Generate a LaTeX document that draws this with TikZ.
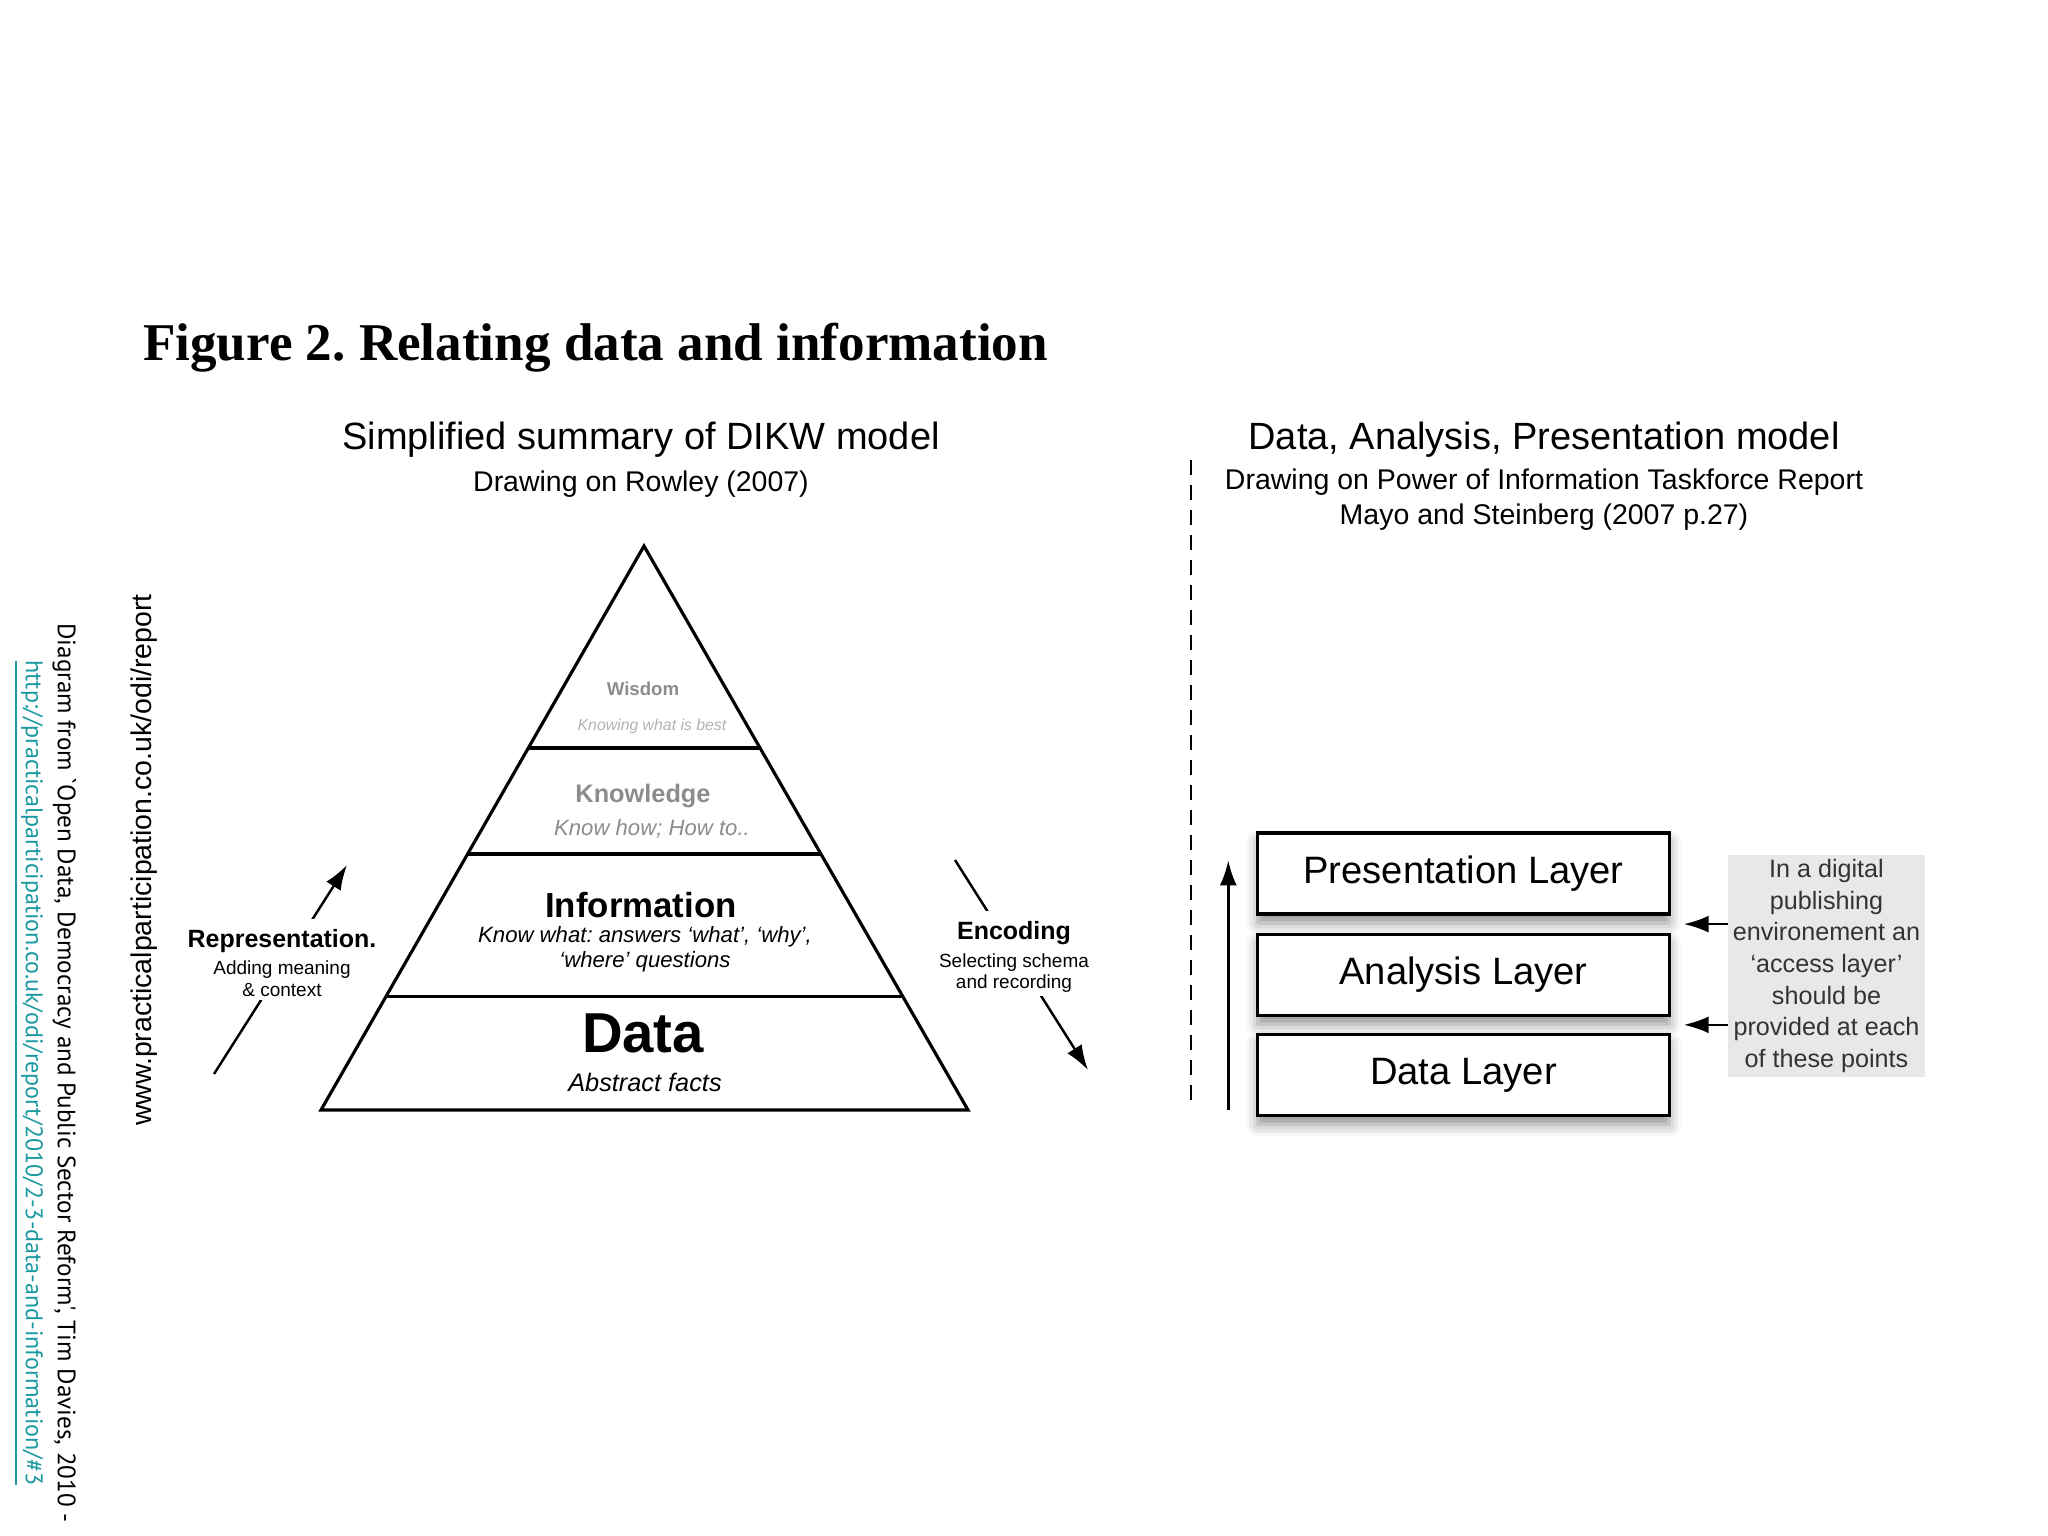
\documentclass[tikz,border=0pt]{standalone}
\usepackage{fontspec}
\setmainfont{Liberation Sans}
\newfontfamily\titlefont{Liberation Serif}
\newfontfamily\creditfont{PT Sans}
\usepackage{xcolor}
\usepackage{tikz}
\usetikzlibrary{arrows.meta, positioning, calc, shadows.blur}
\definecolor{linkteal}{RGB}{26,154,160}
\definecolor{notegray}{RGB}{232,232,232}
\newcommand{\fs}[2]{\fontsize{#1}{#2}\selectfont}

\begin{document}
\frenchspacing
\begin{tikzpicture}[x=0.01cm, y=-0.01cm,
    every node/.style={inner sep=1pt},
    head/.style={font=\fs{10.8}{13}},
    subhead/.style={font=\fs{8.1}{10}, align=center},
    layer/.style={draw, line width=0.9pt, fill=white, minimum width=4.11cm, minimum height=0.81cm,
      font=\fs{10.85}{13},
      blur shadow={shadow xshift=0pt, shadow yshift=-0.09cm, shadow blur radius=0.12cm, shadow opacity=45}},
    flow/.style={line width=0.7pt, -{Latex[length=0.25cm, width=0.17cm]}},
    sidehead/.style={fill=white, inner ysep=3pt, font=\bfseries\fs{7.1}{8}},
    sidetext/.style={fill=white, inner ysep=1pt, align=center, font=\fs{5.4}{6.2}}]
  \useasboundingbox (0,0) rectangle (2048,1536);

  \node[anchor=base west, font=\titlefont\bfseries\fs{15.1}{18}] (title) at (139,360)
    {Figure 2. Relating data and information};

  \node[head] (dikw) at (641,440) {Simplified summary of DIKW model};
  \node[subhead] (dikwsrc) at (641,484) {Drawing on Rowley (2007)};
  \node[head] (dap) at (1544,440) {Data, Analysis, Presentation model};
  \node[subhead] (dapsrc) at (1544,500)
    {Drawing on Power of Information Taskforce Report\\Mayo and Steinberg (2007 p.27)};

  \draw[line width=0.6pt, dash pattern=on 0.15cm off 0.1cm] (1191,460) -- (1191,1110);

  % DIKW pyramid
  \coordinate (apex) at (644,546);
  \coordinate (bl) at (321,1110);
  \coordinate (br) at (968,1110);
  \draw[line width=0.9pt] (apex) -- (bl) -- (br) -- cycle;
  \foreach \f in {0.358,0.546,0.798}
    \draw[line width=0.9pt] ($(apex)!\f!(bl)$) -- ($(apex)!\f!(br)$);

  \node[font=\bfseries\fs{5.3}{6}, text=black!45] (wis) at (643,689) {Wisdom};
  \node[font=\itshape\fs{4.5}{5}, text=black!30] (wisd) at (652,726) {Knowing what is best};
  \node[font=\bfseries\fs{7.2}{8}, text=black!45] (know) at (643,796) {Knowledge};
  \node[font=\itshape\fs{6.3}{7}, text=black!45] (knowd) at (652,829) {Know how; How to..};
  \node[font=\bfseries\fs{9.9}{11}] (info) at (641,905) {Information};
  \node[font=\itshape\fs{6.3}{7.1}, align=center] (infod) at (645,949)
    {Know what: answers `what', `why',\\`where' questions};
  \node[font=\bfseries\fs{16}{18}] (data) at (643,1033) {Data};
  \node[font=\itshape\fs{7.2}{8}] (datad) at (645,1082) {Abstract facts};

  \coordinate (repfrom) at (214,1074);
  \coordinate (repto) at (347,865);
  \draw[flow] (repfrom) -- (repto);
  \node[sidehead] (rep) at (282,941) {Representation.};
  \node[sidetext] (repd) at (282,979) {Adding meaning\\\& context};

  \coordinate (encfrom) at (955,860);
  \coordinate (encto) at (1088,1070);
  \draw[flow] (encfrom) -- (encto);
  \node[sidehead] (enc) at (1014,933) {Encoding};
  \node[sidetext] (encd) at (1014,973) {Selecting schema\\and recording};

  % layers
  \node[layer] (pres) at (1463.5,873.5) {Presentation Layer};
  \node[layer, below=0.17cm of pres] (ana) {Analysis Layer};
  \node[layer, below=0.16cm of ana] (dat) {Data Layer};
  \draw[flow] ([xshift=-0.28cm, yshift=0.07cm]dat.south west)
    -- ([xshift=-0.28cm, yshift=-0.29cm]pres.north west);

  \node[fill=notegray, align=center, minimum width=1.96cm, minimum height=2.21cm, inner sep=0pt,
        font=\fs{7.15}{9}, text=black!80] (note) at (1826.5,966)
    {In a digital\\publishing\\environement an\\`access layer'\\should be\\provided at each\\of these points};
  \coordinate (gapA) at ($(pres.south east)!0.5!(ana.north east)$);
  \coordinate (gapB) at ($(ana.south east)!0.5!(dat.north east)$);
  \foreach \g in {gapA,gapB}
    \draw[flow] (note.west |- \g) -- ([xshift=0.13cm]\g);

  \node[rotate=90, font=\fs{8.1}{10}] (site) at (144,860) {www.practicalparticipation.co.uk/odi/report};
  \node[rotate=-90, align=center, font=\creditfont\fs{7.15}{9.1}] (credit) at (45,1073)
    {Diagram from `Open Data, Democracy and Public Sector Reform', Tim Davies, 2010 -\\
     {\fs{6.85}{9.1}\textcolor{linkteal}{\underline{http://practicalparticipation.co.uk/odi/report/2010/2-3-data-and-information/\#3}}}};
\end{tikzpicture}
\end{document}
